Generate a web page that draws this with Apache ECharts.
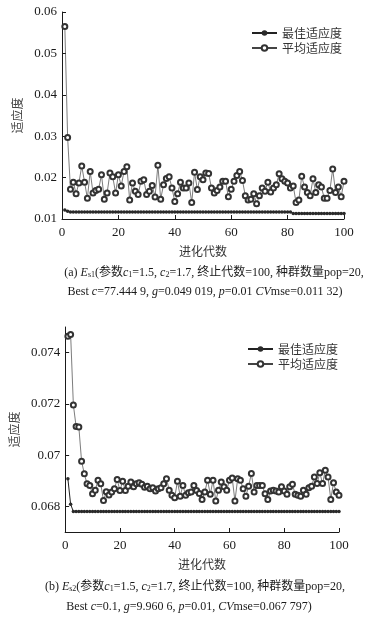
<!DOCTYPE html>
<html>
<head>
<meta charset="utf-8">
<script src="https://cdn.jsdelivr.net/npm/echarts@6/dist/echarts.min.js"></script>
<style>
  html, body { margin: 0; padding: 0; background: #fff; }
  #chart { width: 378px; height: 619px; }
</style>
</head>
<body>
<div id="chart"></div>
<script>
// x ticks shared by both panels
const xTicks = [0, 20, 40, 60, 80, 100]
const yTicks1 = [0.01, 0.02, 0.03, 0.04, 0.05, 0.06]
const yTicks2 = [0.068, 0.070, 0.072, 0.074]
const names = ['最佳适应度', '平均适应度']

// (a) Es1
const best1 = [
  0.0122, 0.0119, 0.0117, 0.0117, 0.0117, 0.0117, 0.0117, 0.0117, 0.0117, 0.0117,
  0.0117, 0.0117, 0.0117, 0.0117, 0.0117, 0.0117, 0.0117, 0.0117, 0.0117, 0.0117,
  0.0117, 0.0117, 0.0117, 0.0117, 0.0117, 0.0117, 0.0117, 0.0117, 0.0117, 0.0117,
  0.0117, 0.0117, 0.0117, 0.0117, 0.0117, 0.0117, 0.0117, 0.0117, 0.0117, 0.0117,
  0.0117, 0.0117, 0.0117, 0.0117, 0.0117, 0.0117, 0.0117, 0.0117, 0.0117, 0.0117,
  0.0117, 0.0117, 0.0117, 0.0117, 0.0117, 0.0117, 0.0117, 0.0117, 0.0117, 0.0117,
  0.0117, 0.0117, 0.0117, 0.0117, 0.0117, 0.0117, 0.0117, 0.0117, 0.0117, 0.0117,
  0.0117, 0.0117, 0.0117, 0.0117, 0.0117, 0.0117, 0.0117, 0.0117, 0.0117, 0.0117,
  0.0117, 0.0113, 0.0113, 0.0113, 0.0113, 0.0113, 0.0113, 0.0113, 0.0113, 0.0113,
  0.0113, 0.0113, 0.0113, 0.0113, 0.0113, 0.0113, 0.0113, 0.0113, 0.0113, 0.0113
]
const avg1 = [
  0.0565, 0.0297, 0.0172, 0.0189, 0.0161, 0.0187, 0.0228, 0.0189, 0.0150, 0.0215,
  0.0163, 0.0169, 0.0172, 0.0207, 0.0148, 0.0163, 0.0211, 0.0202, 0.0163, 0.0207,
  0.0180, 0.0215, 0.0226, 0.0146, 0.0187, 0.0167, 0.0159, 0.0191, 0.0195, 0.0159,
  0.0167, 0.0181, 0.0153, 0.0230, 0.0148, 0.0183, 0.0198, 0.0202, 0.0175, 0.0142,
  0.0161, 0.0189, 0.0175, 0.0175, 0.0187, 0.0140, 0.0213, 0.0171, 0.0202, 0.0195,
  0.0211, 0.0210, 0.0175, 0.0163, 0.0169, 0.0177, 0.0191, 0.0191, 0.0154, 0.0172,
  0.0191, 0.0205, 0.0215, 0.0193, 0.0156, 0.0146, 0.0148, 0.0161, 0.0137, 0.0156,
  0.0175, 0.0167, 0.0189, 0.0165, 0.0175, 0.0183, 0.0209, 0.0197, 0.0191, 0.0187,
  0.0175, 0.0180, 0.0140, 0.0146, 0.0203, 0.0177, 0.0164, 0.0156, 0.0197, 0.0164,
  0.0183, 0.0177, 0.0150, 0.0150, 0.0169, 0.0221, 0.0164, 0.0177, 0.0154, 0.0191
]

// (b) Es2
const best2 = [
  0.06908, 0.06808, 0.0678, 0.0678, 0.0678, 0.0678, 0.0678, 0.0678, 0.0678, 0.0678,
  0.0678, 0.0678, 0.0678, 0.0678, 0.0678, 0.0678, 0.0678, 0.0678, 0.0678, 0.0678,
  0.0678, 0.0678, 0.0678, 0.0678, 0.0678, 0.0678, 0.0678, 0.0678, 0.0678, 0.0678,
  0.0678, 0.0678, 0.0678, 0.0678, 0.0678, 0.0678, 0.0678, 0.0678, 0.0678, 0.0678,
  0.0678, 0.0678, 0.0678, 0.0678, 0.0678, 0.0678, 0.0678, 0.0678, 0.0678, 0.0678,
  0.0678, 0.0678, 0.0678, 0.0678, 0.0678, 0.0678, 0.0678, 0.0678, 0.0678, 0.0678,
  0.0678, 0.0678, 0.0678, 0.0678, 0.0678, 0.0678, 0.0678, 0.0678, 0.0678, 0.0678,
  0.0678, 0.0678, 0.0678, 0.0678, 0.0678, 0.0678, 0.0678, 0.0678, 0.0678, 0.0678,
  0.0678, 0.0678, 0.0678, 0.0678, 0.0678, 0.0678, 0.0678, 0.0678, 0.0678, 0.0678,
  0.0678, 0.0678, 0.0678, 0.0678, 0.0678, 0.0678, 0.0678, 0.0678, 0.0678, 0.0678
]
const avg2 = [
  0.07464, 0.07471, 0.07196, 0.07112, 0.07110, 0.06976, 0.06927, 0.06888, 0.06881, 0.06849,
  0.06863, 0.06902, 0.06888, 0.06823, 0.06857, 0.06844, 0.06856, 0.06869, 0.06905, 0.06862,
  0.06898, 0.06862, 0.06879, 0.06895, 0.06877, 0.06888, 0.06892, 0.06886, 0.06875, 0.06879,
  0.06869, 0.06873, 0.06860, 0.06869, 0.06873, 0.06888, 0.06908, 0.06863, 0.06843, 0.06834,
  0.06898, 0.06840, 0.06881, 0.06843, 0.06853, 0.06856, 0.06881, 0.06862, 0.06850, 0.06827,
  0.06856, 0.06902, 0.06847, 0.06902, 0.06821, 0.06863, 0.06895, 0.06877, 0.06863, 0.06902,
  0.06911, 0.06821, 0.06908, 0.06902, 0.06869, 0.06840, 0.06879, 0.06928, 0.06856, 0.06881,
  0.06881, 0.06881, 0.06849, 0.06827, 0.06860, 0.06863, 0.06860, 0.06856, 0.06877, 0.06860,
  0.06847, 0.06877, 0.06886, 0.06847, 0.06843, 0.06840, 0.06863, 0.06847, 0.06873, 0.06879,
  0.06915, 0.06889, 0.06931, 0.06889, 0.06941, 0.06915, 0.06827, 0.06892, 0.06856, 0.06843
]

const serif = "'Liberation Serif', 'Noto Sans CJK SC', serif"
const cjk = "'Noto Sans CJK SC', sans-serif"
const ink = '#1a1a1a'

// generation number is the x value (1..100)
const pairs = arr => arr.map((v, i) => [i + 1, v])

const chart = echarts.init(document.getElementById('chart'))

function xAxis(gridIndex) {
  return {
    type: 'value', gridIndex, min: 0, max: 100, interval: 20,
    name: '进化代数', nameLocation: 'middle', nameGap: 26,
    nameTextStyle: { fontFamily: cjk, fontSize: 12, color: '#333' },
    axisLine: { lineStyle: { color: ink, width: 1 } },
    axisTick: { inside: true, length: 4, lineStyle: { color: ink }, customValues: xTicks },
    axisLabel: { fontFamily: serif, fontSize: 13, color: ink, margin: 7, customValues: xTicks },
    splitLine: { show: false }
  }
}

function yAxis(gridIndex, min, max, ticks, gap) {
  return {
    type: 'value', gridIndex, min, max,
    name: '适应度', nameLocation: 'middle', nameGap: gap,
    nameTextStyle: { fontFamily: cjk, fontSize: 12, color: '#444' },
    axisLine: { show: true, lineStyle: { color: ink, width: 1 } },
    axisTick: { show: true, inside: true, length: 4, lineStyle: { color: ink }, customValues: ticks },
    axisLabel: { fontFamily: serif, fontSize: 13, color: ink, margin: 5, customValues: ticks },
    splitLine: { show: false }
  }
}

function bestSeries(data, idx) {
  return {
    name: names[0], type: 'line', xAxisIndex: idx, yAxisIndex: idx,
    data: pairs(data), symbol: 'circle', symbolSize: 3.5, showAllSymbol: true,
    itemStyle: { color: '#2a2a2a' }, lineStyle: { color: '#222', width: 1 }
  }
}

function avgSeries(data, idx) {
  return {
    name: names[1], type: 'line', xAxisIndex: idx, yAxisIndex: idx,
    data: pairs(data), symbol: 'emptyCircle', symbolSize: 5, showAllSymbol: true,
    itemStyle: { color: '#333', borderColor: '#333', borderWidth: 0.7 },
    lineStyle: { color: '#444', width: 0.7 }
  }
}

function legend(left, top) {
  return {
    data: names, orient: 'vertical', left, top,
    itemWidth: 25, itemHeight: 7, itemGap: 3,
    textStyle: { fontFamily: cjk, fontSize: 12, color: '#333' }
  }
}

const rich = {
  i: { fontFamily: serif, fontStyle: 'italic', fontSize: 12, fill: ink },
  s: { fontFamily: serif, fontSize: 8, fill: ink, verticalAlign: 'bottom', lineHeight: 11 }
}

function caption(text, x, y) {
  return {
    type: 'text', x, y,
    style: {
      text, fill: ink, font: '12px ' + serif,
      align: 'center', verticalAlign: 'middle', rich
    }
  }
}

chart.setOption({
  animation: false,
  backgroundColor: '#fff',
  grid: [
    { left: 62, top: 12, width: 282, height: 207 },
    { left: 64, top: 327, width: 275, height: 205 }
  ],
  legend: [legend(246, 22), legend(242, 338)],
  xAxis: [xAxis(0), xAxis(1)],
  yAxis: [
    yAxis(0, 0.01, 0.06, yTicks1, 32),
    yAxis(1, 0.067, 0.075, yTicks2, 42)
  ],
  series: [
    bestSeries(best1, 0), avgSeries(avg1, 0),
    bestSeries(best2, 1), avgSeries(avg2, 1)
  ],
  graphic: [
    caption('(a) {i|E}{s|s1}(参数{i|c}{s|1}=1.5, {i|c}{s|2}=1.7, 终止代数=100, 种群数量pop=20,', 214, 273),
    caption('Best {i|c}=77.444 9, {i|g}=0.049 019, {i|p}=0.01 {i|CV}mse=0.011 32)', 205, 292),
    caption('(b) {i|E}{s|s2}(参数{i|c}{s|1}=1.5, {i|c}{s|2}=1.7, 终止代数=100, 种群数量pop=20,', 195, 587),
    caption('Best {i|c}=0.1, {i|g}=9.960 6, {i|p}=0.01, {i|CV}mse=0.067 797)', 189, 607)
  ]
})
</script>
</body>
</html>
